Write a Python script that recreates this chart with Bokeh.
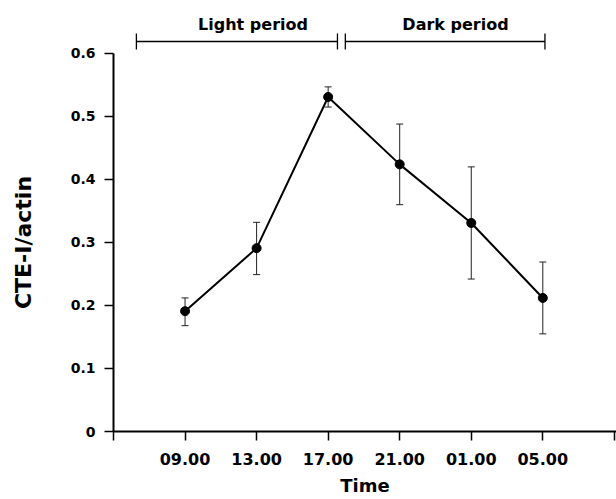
import math
from bokeh.plotting import figure
from bokeh.layouts import row
from bokeh.core.properties import value
from bokeh.models import (ColumnDataSource, Whisker, TeeHead, FixedTicker, LabelSet, Label, Range1d)
from bokeh.embed import file_html
from bokeh.resources import INLINE

# ---- data ----
times = ["09.00", "13.00", "17.00", "21.00", "01.00", "05.00"]
mean = [0.191, 0.291, 0.531, 0.424, 0.331, 0.212]
err_upper = [0.212, 0.332, 0.547, 0.488, 0.420, 0.269]
err_lower = [0.168, 0.249, 0.515, 0.360, 0.242, 0.155]
y_ticks = [0, 0.1, 0.2, 0.3, 0.4, 0.5, 0.6]
periods = ["Light period", "Dark period"]
period_start = [0.32, 3.24]
period_end = [3.13, 6.03]
period_label_x = [1.95, 4.78]
period_bar_y = [0.619, 0.619]
period_label_y = [0.638, 0.638]
y_title = "CTE-I/actin"
x_title = "Time"

xpos = [i + 1 for i in range(len(times))]
FONT = "DejaVu Sans"

x_range = Range1d(0, 7.03)
y_range = Range1d(0, 0.6841)

# ---- left strip holding the y-axis title ----
left = figure(width=40, height=499, output_backend="svg", toolbar_location=None,
              x_range=Range1d(0, 1), y_range=y_range,
              x_axis_location=None, y_axis_location=None,
              min_border_left=0, min_border_right=0, min_border_top=0,
              min_border_bottom=68)
left.outline_line_color = None
left.grid.visible = False
left.add_layout(Label(x=23, x_units="screen", y=(y_ticks[0] + y_ticks[-1]) / 2,
                      text=y_title, angle=math.pi / 2, text_align="center",
                      text_baseline="middle", text_font=FONT,
                      text_font_size="22px", text_font_style="bold",
                      text_color="black"))

# ---- main plot ----
p = figure(width=576, height=499, output_backend="svg", toolbar_location=None,
           x_range=x_range, y_range=y_range,
           min_border_left=73, min_border_right=0, min_border_top=0,
           min_border_bottom=68)
p.outline_line_color = None
p.grid.visible = False

# light / dark period brackets
psrc = ColumnDataSource(dict(name=periods, start=period_start, end=period_end,
                             lx=period_label_x, by=period_bar_y, ly=period_label_y))
br = Whisker(source=psrc, base="by", lower="start", upper="end", dimension="width",
             line_color="black", line_width=1.3,
             upper_head=TeeHead(size=16, line_color="black", line_width=1.3),
             lower_head=TeeHead(size=16, line_color="black", line_width=1.3))
p.add_layout(br)
labels = LabelSet(source=psrc, x="lx", y="ly", text="name", text_align="center",
                  text_baseline="alphabetic", text_font=value(FONT),
                  text_font_size="16px", text_font_style="bold", text_color="black")
p.add_layout(labels)

src = ColumnDataSource(dict(x=xpos, y=mean, upper=err_upper, lower=err_lower))
eb = Whisker(source=src, base="x", upper="upper", lower="lower", dimension="height",
             line_color="#222222", line_width=1,
             upper_head=TeeHead(size=7, line_color="#222222", line_width=1),
             lower_head=TeeHead(size=7, line_color="#222222", line_width=1))
p.add_layout(eb)

p.line("x", "y", source=src, line_color="black", line_width=2)
p.scatter("x", "y", source=src, size=9, fill_color="black", line_color="black")

p.xaxis.ticker = FixedTicker(ticks=[0] + xpos + [7])
overrides = {0: ""}
for xv, t in zip(xpos, times):
    overrides[xv] = t
overrides[7] = ""
p.xaxis.major_label_overrides = overrides
p.yaxis.ticker = FixedTicker(ticks=y_ticks)
p.yaxis.major_label_overrides = {0: "0"}
p.yaxis.bounds = (y_ticks[0], y_ticks[-1])

p.xaxis.axis_label = x_title
for ax in (p.xaxis, p.yaxis):
    ax.axis_line_width = 2
    ax.axis_line_color = "black"
    ax.major_tick_line_width = 1.5
    ax.major_tick_line_color = "black"
    ax.major_tick_out = 9
    ax.major_tick_in = 0
    ax.minor_tick_line_color = None
    ax.major_label_text_font = FONT
    ax.major_label_text_font_style = "bold"
    ax.major_label_text_color = "black"
    ax.axis_label_text_font = FONT
    ax.axis_label_text_font_style = "bold"
    ax.axis_label_text_color = "black"

p.xaxis.major_label_text_font_size = "16px"
p.yaxis.major_label_text_font_size = "14px"
p.xaxis.axis_label_text_font_size = "18px"
p.xaxis.major_label_standoff = 12
p.yaxis.major_label_standoff = 9
p.xaxis.axis_label_standoff = 7

layout = row(left, p, spacing=0)
open("out.html", "w").write(file_html(layout, INLINE))
